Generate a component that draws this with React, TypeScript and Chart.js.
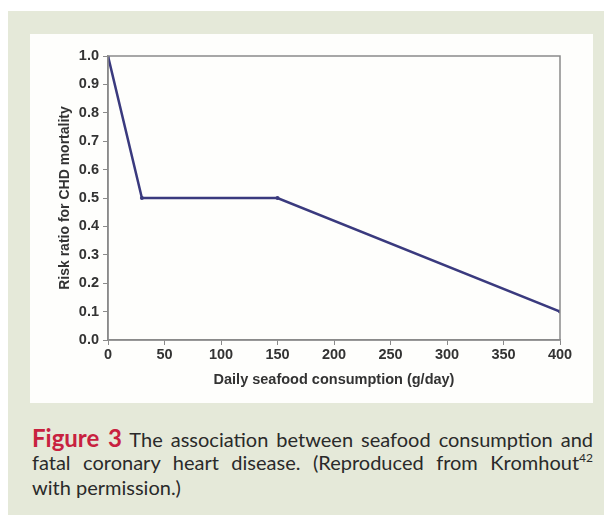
import React, { useEffect, useRef } from "react";
import { Chart, registerables } from "chart.js";

Chart.register(...registerables);

const seafoodGrams = [0, 30, 150, 400];
const riskRatio = [1.0, 0.5, 0.5, 0.1];
const xTicks = [0, 50, 100, 150, 200, 250, 300, 350, 400];
const yTicks = [0, 0.1, 0.2, 0.3, 0.4, 0.5, 0.6, 0.7, 0.8, 0.9, 1.0];

const frame = {
  id: "frame",
  afterDraw(chart: any) {
    const { ctx, chartArea } = chart;
    ctx.save();
    ctx.strokeStyle = "#8a8a8a";
    ctx.lineWidth = 1.5;
    ctx.strokeRect(chartArea.left, chartArea.top, chartArea.right - chartArea.left, chartArea.bottom - chartArea.top);
    ctx.restore();
  },
};

export default function App() {
  const ref = useRef<HTMLCanvasElement>(null);
  useEffect(() => {
    const font = "'Liberation Sans', Arial, sans-serif";
    const chart = new Chart(ref.current!, {
      type: "line",
      data: {
        datasets: [
          {
            data: seafoodGrams.map((x, i) => ({ x, y: riskRatio[i] })),
            borderColor: "#3a3a7e",
            backgroundColor: "#3a3a7e",
            borderWidth: 2.5,
            pointRadius: 2,
            pointBorderWidth: 0,
            tension: 0,
          },
        ],
      },
      options: {
        animation: false,
        responsive: false,
        layout: { padding: { left: 0, top: 22, right: 33, bottom: 0 } },
        plugins: { legend: { display: false }, tooltip: { enabled: false } },
        scales: {
          x: {
            type: "linear",
            min: 0,
            max: 400,
            afterBuildTicks: (s: any) => { s.ticks = xTicks.map((v) => ({ value: v })); },
            afterFit: (s: any) => { s.height = 63; },
            ticks: { color: "#333", font: { family: font, size: 14.5, weight: "bold" }, padding: 1 },
            grid: { drawOnChartArea: false, drawTicks: true, tickLength: 5, color: "#8a8a8a" },
            border: { color: "#8a8a8a", width: 1.5 },
            title: {
              display: true,
              text: "Daily seafood consumption (g/day)",
              color: "#333",
              font: { family: font, size: 14.5, weight: "bold" },
              padding: { top: 0, bottom: 14 },
            },
          },
          y: {
            min: 0,
            max: 1,
            afterBuildTicks: (s: any) => { s.ticks = yTicks.map((v) => ({ value: v })); },
            afterFit: (s: any) => { s.width = 78; },
            ticks: {
              color: "#333",
              font: { family: font, size: 14.5, weight: "bold" },
              padding: 4,
              callback: (v: any) => Number(v).toFixed(1),
            },
            grid: { drawOnChartArea: false, drawTicks: true, tickLength: 5, color: "#8a8a8a" },
            border: { color: "#8a8a8a", width: 1.5 },
            title: {
              display: true,
              text: "Risk ratio for CHD mortality",
              color: "#333",
              font: { family: font, size: 14, weight: "bold" },
              padding: { top: 27, bottom: 0 },
            },
          },
        },
      },
      plugins: [frame],
    });
    return () => chart.destroy();
  }, []);

  const line = { whiteSpace: "nowrap" as const, textAlign: "justify" as const, textAlignLast: "justify" as const, height: 25 };

  return (
    <div style={{ position: "fixed", left: 0, top: 0, width: 604, height: 515, background: "#ffffff", overflow: "hidden" }}>
      <div style={{ position: "absolute", left: 8, top: 11, width: 596, height: 504, background: "#e5e9d9" }} />
      <div style={{ position: "absolute", left: 30, top: 34, width: 563, height: 369, background: "#fefefc" }}>
        <canvas ref={ref} width={563} height={369} style={{ display: "block" }} />
      </div>
      <div
        style={{
          position: "absolute",
          left: 32,
          top: 425,
          width: 561,
          fontFamily: "Lato, 'Open Sans', sans-serif",
          fontSize: 20,
          lineHeight: "25px",
          color: "#2a2a2a",
        }}
      >
        <div style={line}>
          <span style={{ color: "#c8213f", fontWeight: "bold", fontSize: 24 }}>Figure 3</span> The association between seafood consumption and
        </div>
        <div style={line}>
          fatal coronary heart disease. (Reproduced from Kromhout<sup style={{ fontSize: 12, lineHeight: 0 }}>42</sup>
        </div>
        <div style={{ whiteSpace: "nowrap" }}>with permission.)</div>
      </div>
    </div>
  );
}
